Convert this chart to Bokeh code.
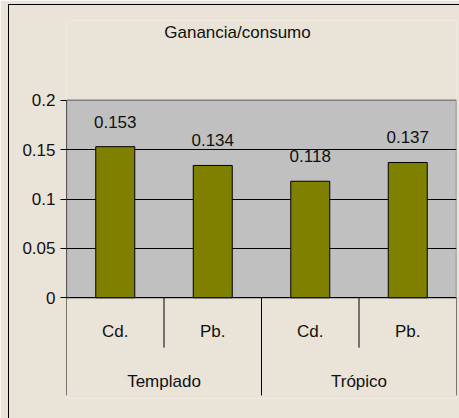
from bokeh.plotting import figure
from bokeh.models import Range1d, FixedTicker, CustomJSTickFormatter, ColumnDataSource, InlineStyleSheet
from bokeh.core.properties import value
from bokeh.embed import file_html
from bokeh.resources import INLINE

title = "Ganancia/consumo"
groups = ["Templado", "Trópico"]
metals = ["Cd.", "Pb."]
values = [0.153, 0.134, 0.118, 0.137]
y_ticks = [0, 0.05, 0.1, 0.15, 0.2]

FONT = "Liberation Sans"
FS = "17px"
BG = "#E9E3D8"
TXT = "#111111"

n = len(groups) * len(metals)
xs = [i + 0.5 for i in range(n)]
sub_labels = [m for g in groups for m in metals]
grp_x = [len(metals) * (j + 0.5) for j in range(len(groups))]

PX = 0.2 / 198.0  # data units per pixel (vertical)
y_top = y_ticks[-1]

p = figure(width=459, height=418, frame_width=390, frame_height=378,
           min_border_left=66, min_border_top=20, min_border_right=3, min_border_bottom=20,
           x_range=Range1d(0, n), y_range=Range1d(-101 * PX, y_top + 80 * PX),
           output_backend="svg", toolbar_location=None, x_axis_location=None)
p.background_fill_color = BG
p.border_fill_color = BG
p.outline_line_color = None
p.grid.visible = False

ya = p.yaxis[0]
ya.ticker = FixedTicker(ticks=y_ticks)
ya.formatter = CustomJSTickFormatter(code="return String(Math.round(tick*1000)/1000)")
ya.minor_tick_line_color = None
ya.major_tick_in = 0
ya.major_tick_out = 6
ya.major_tick_line_color = "black"
ya.axis_line_color = None
ya.major_label_standoff = 5
ya.major_label_text_font = FONT
ya.major_label_text_font_size = FS
ya.major_label_text_color = TXT

# gray plot area
p.quad(left=[0], right=[n], bottom=[0], top=[y_top], fill_color="#C0C0C0",
       line_color="#808080", line_width=1.5)
p.hspan(y=[t for t in y_ticks[1:-1]], line_color="black", line_width=1)
p.hspan(y=[0], line_color="black", line_width=1)

src = ColumnDataSource(dict(x=xs, top=values, zero=[0] * n,
                            lab=[f"{v:.3f}" for v in values], sub=sub_labels))
p.vbar(x="x", top="top", width=0.4, source=src, fill_color="#808000",
       line_color="black", line_width=1)
p.text(x="x", y="top", text="lab", source=src, text_align="center",
       text_baseline="alphabetic", y_offset=-25, text_font=value(FONT),
       text_font_size=FS, text_color=TXT)

# left axis line + category table separators
sep_x = list(range(n + 1))
sep_long = [i % len(metals) == 0 for i in sep_x]
p.segment(x0=[0], x1=[0], y0=[y_top], y1=[0], line_color="black", line_width=1)
p.segment(x0=sep_x, x1=sep_x, y0=[0] * len(sep_x),
          y1=[-(98 if l else 50) * PX for l in sep_long], line_color="black", line_width=1)
p.text(x="x", y="zero", text="sub", source=src, text_align="center",
       text_baseline="alphabetic", y_offset=34, text_font=value(FONT),
       text_font_size=FS, text_color=TXT)
p.text(x=grp_x, y=[0] * len(groups), text=groups, text_align="center",
       text_baseline="alphabetic", y_offset=84, text_font=value(FONT),
       text_font_size=FS, text_color=TXT)

# title
p.text(x=[n / 2], y=[y_top], text=[title], text_align="center",
       text_baseline="alphabetic", x_offset=-24, y_offset=-68, text_font=value(FONT),
       text_font_size=FS, text_color=TXT)

p.stylesheets = [InlineStyleSheet(css=(
    ":host::after { content: ''; position: absolute; left: 8px; top: 4px; "
    "right: -10px; bottom: -10px; border-left: 1px solid #000; border-top: 1px solid #000; "
    "pointer-events: none; z-index: 100; }"))]

open("out.html", "w").write(file_html(p, INLINE))
